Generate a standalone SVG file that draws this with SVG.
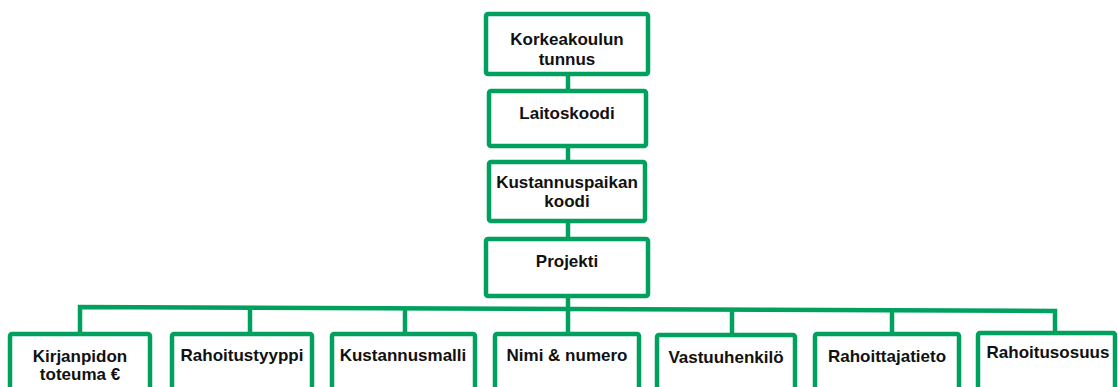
<svg xmlns="http://www.w3.org/2000/svg" width="1118" height="387" viewBox="0 0 1118 387">
<style>
.box{fill:#fff;stroke:#00A05E;stroke-width:4.5}
.con{fill:none;stroke:#00A05E;stroke-width:4.5}
text{font-family:"Liberation Sans",Arial,sans-serif;font-weight:bold;font-size:17px;fill:#111;text-anchor:middle}
</style>
<rect width="1118" height="387" fill="#fff"/>
<g id="connectors">
<line class="con" x1="568" y1="74" x2="568" y2="91"/>
<line class="con" x1="568" y1="146" x2="568" y2="162"/>
<line class="con" x1="568" y1="221" x2="568" y2="239"/>
<line class="con" x1="568" y1="296" x2="568" y2="309"/>
<path class="con" d="M80 334 V307 L1055 311 V334"/>
<line class="con" x1="250" y1="308" x2="250" y2="334"/>
<line class="con" x1="405" y1="308" x2="405" y2="334"/>
<line class="con" x1="568" y1="309" x2="568" y2="334"/>
<line class="con" x1="732" y1="309" x2="732" y2="334"/>
<line class="con" x1="892" y1="310" x2="892" y2="334"/>
</g>
<g id="korkeakoulu"><rect class="box" x="486" y="14" width="162" height="60" rx="2"/><text x="567" y="45">Korkeakoulun</text><text x="567" y="65">tunnus</text></g>
<g id="laitoskoodi"><rect class="box" x="489" y="91" width="157" height="55" rx="2"/><text x="567" y="119">Laitoskoodi</text></g>
<g id="kustannuspaikka"><rect class="box" x="489" y="162" width="156" height="59" rx="2"/><text x="567" y="188">Kustannuspaikan</text><text x="567" y="207">koodi</text></g>
<g id="projekti"><rect class="box" x="486" y="239" width="162" height="57" rx="2"/><text x="567" y="267">Projekti</text></g>
<g id="kirjanpito"><rect class="box" x="10" y="334" width="140" height="70" rx="2"/><text x="80" y="362">Kirjanpidon</text><text x="80" y="380">toteuma €</text></g>
<g id="rahoitustyyppi"><rect class="box" x="172" y="334" width="140" height="70" rx="2"/><text x="242" y="361">Rahoitustyyppi</text></g>
<g id="kustannusmalli"><rect class="box" x="332" y="334" width="143" height="70" rx="2"/><text x="403" y="361">Kustannusmalli</text></g>
<g id="niminumero"><rect class="box" x="495" y="334" width="144" height="70" rx="2"/><text x="567" y="361">Nimi &amp; numero</text></g>
<g id="vastuuhenkilo"><rect class="box" x="657" y="335" width="138" height="70" rx="2"/><text x="726" y="363">Vastuuhenkilö</text></g>
<g id="rahoittajatieto"><rect class="box" x="815" y="334" width="144" height="70" rx="2"/><text x="887" y="362">Rahoittajatieto</text></g>
<g id="rahoitusosuus"><rect class="box" x="978" y="333" width="137" height="70" rx="2"/><text x="1048" y="358">Rahoitusosuus</text></g>
</svg>
